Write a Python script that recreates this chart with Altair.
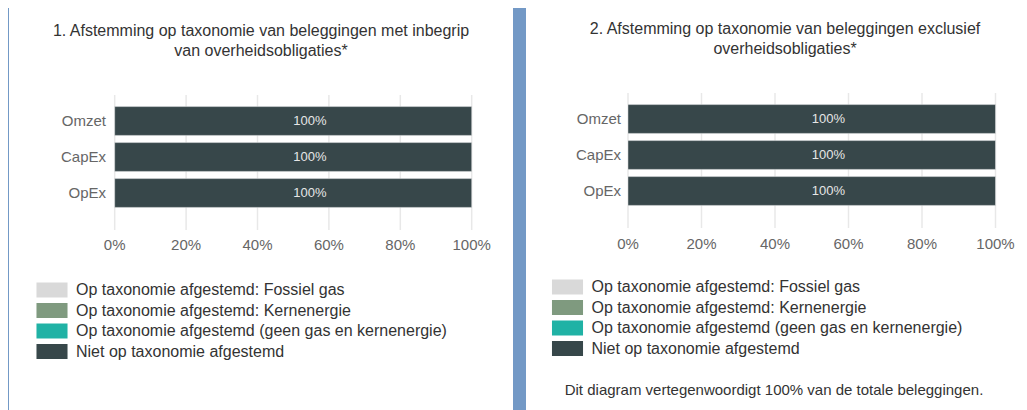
import altair as alt
import pandas as pd

FONT = "Liberation Sans"

# ---------------- data ----------------
categories = ["Omzet", "CapEx", "OpEx"]
series = [
    "Op taxonomie afgestemd: Fossiel gas",
    "Op taxonomie afgestemd: Kernenergie",
    "Op taxonomie afgestemd (geen gas en kernenergie)",
    "Niet op taxonomie afgestemd",
]
series_colors = ["#d9d9d9", "#7f9a7f", "#20b2a5", "#37474a"]

# values in % for Omzet, CapEx, OpEx
p1_fossil = [0, 0, 0]
p1_nuclear = [0, 0, 0]
p1_aligned = [0, 0, 0]
p1_not = [100, 100, 100]

p2_fossil = [0, 0, 0]
p2_nuclear = [0, 0, 0]
p2_aligned = [0, 0, 0]
p2_not = [100, 100, 100]

tick_values = [0, 20, 40, 60, 80, 100]
tick_labels = ["0%", "20%", "40%", "60%", "80%", "100%"]

title1 = "1. Afstemming op taxonomie van beleggingen met inbegrip\nvan overheidsobligaties*"
title2 = "2. Afstemming op taxonomie van beleggingen exclusief\noverheidsobligaties*"
footnote2 = "Dit diagram vertegenwoordigt 100% van de totale beleggingen."

LEGEND_SYMBOL = "M-2.07,-1H2.07V1H-2.07Z"


def panel(values, title, width, xr, yr, grid_y, tick_y, ylab_x, title_x, title_y,
          leg_x, leg_y, note=None, note_x=0, note_y=0):
    rows = []
    for ci, c in enumerate(categories):
        s = 0
        for si, name in enumerate(series):
            v = values[si][ci]
            rows.append(dict(cat=c, series=name, order=si, value=v,
                             mid=s + v / 2, label=f"{v:g}%"))
            s += v
    df = pd.DataFrame(rows)
    ticks = pd.DataFrame({"v": tick_values, "label": tick_labels})
    cats = pd.DataFrame({"cat": categories})

    xs = alt.Scale(domain=[0, 100], range=xr, nice=False, zero=False)
    ys = alt.Scale(domain=categories, range=yr, paddingInner=0.2, paddingOuter=0.1)

    grid = alt.Chart(ticks).mark_rule(color="#e8e8e8", strokeWidth=1.5).encode(
        x=alt.X("v:Q", scale=xs, axis=None),
        y=alt.value(grid_y[0]), y2=alt.value(grid_y[1]),
    )
    bars = alt.Chart(df).transform_filter("datum.value > 0").mark_bar(
        stroke="#ffffff", strokeWidth=0.8, strokeOpacity=0.5
    ).encode(
        x=alt.X("value:Q", stack="zero", scale=xs, axis=None),
        y=alt.Y("cat:N", scale=ys, axis=None),
        color=alt.Color(
            "series:N",
            scale=alt.Scale(domain=series, range=series_colors),
            legend=alt.Legend(
                title=None, orient="none", legendX=leg_x, legendY=leg_y,
                symbolType=LEGEND_SYMBOL, symbolSize=225, symbolStrokeWidth=0,
                symbolOpacity=1, labelFont=FONT, labelFontSize=16,
                labelColor="#333333", labelLimit=600, rowPadding=4.5,
                labelOffset=16, padding=0,
            ),
        ),
        order=alt.Order("order:Q"),
    )
    bar_text = alt.Chart(df).transform_filter("datum.value > 0").mark_text(
        align="left", baseline="middle", font=FONT, fontSize=13, color="#e6e6e6", dx=0
    ).encode(
        x=alt.X("mid:Q", scale=xs, axis=None),
        y=alt.Y("cat:N", scale=ys, axis=None),
        text="label:N",
    )
    tick_text = alt.Chart(ticks).mark_text(
        align="center", baseline="middle", font=FONT, fontSize=15, color="#666666"
    ).encode(
        x=alt.X("v:Q", scale=xs, axis=None),
        y=alt.value(tick_y),
        text="label:N",
    )
    cat_text = alt.Chart(cats).mark_text(
        align="right", baseline="middle", font=FONT, fontSize=15, color="#666666"
    ).encode(
        x=alt.value(ylab_x),
        y=alt.Y("cat:N", scale=ys, axis=None),
        text="cat:N",
    )
    title_text = alt.Chart(pd.DataFrame({"t": [title]})).mark_text(
        align="center", baseline="alphabetic", font=FONT, fontSize=16,
        lineHeight=20, lineBreak="\n", color="#333333"
    ).encode(x=alt.value(title_x), y=alt.value(title_y), text="t:N")

    layers = [grid, bars, bar_text, tick_text, cat_text, title_text]
    if note:
        layers.append(
            alt.Chart(pd.DataFrame({"t": [note]})).mark_text(
                align="center", baseline="middle", font=FONT, fontSize=15, color="#333333"
            ).encode(x=alt.value(note_x), y=alt.value(note_y), text="t:N")
        )
    return alt.layer(*layers).properties(width=width, height=402)


left = panel(
    [p1_fossil, p1_nuclear, p1_aligned, p1_not], title1, 504,
    xr=[105.7, 462.7], yr=[95, 203], grid_y=(87, 222), tick_y=237, ylab_x=97,
    title_x=252, title_y=28, leg_x=35, leg_y=274,
)
right = panel(
    [p2_fossil, p2_nuclear, p2_aligned, p2_not], title2, 493,
    xr=[102, 469.5], yr=[93, 201], grid_y=(85, 220), tick_y=236, ylab_x=95,
    title_x=259, title_y=26, leg_x=33.5, leg_y=271,
    note=footnote2, note_x=248, note_y=382,
)

chart = alt.hconcat(left, right, spacing=13).resolve_scale(
    color="independent", x="independent", y="independent"
).configure(
    background="#7399c6",
    padding={"left": 1, "top": 0, "right": 0, "bottom": 0},
).configure_view(stroke=None, fill="white")

chart.save("out.html", embed_options={"renderer": "svg", "actions": False})
